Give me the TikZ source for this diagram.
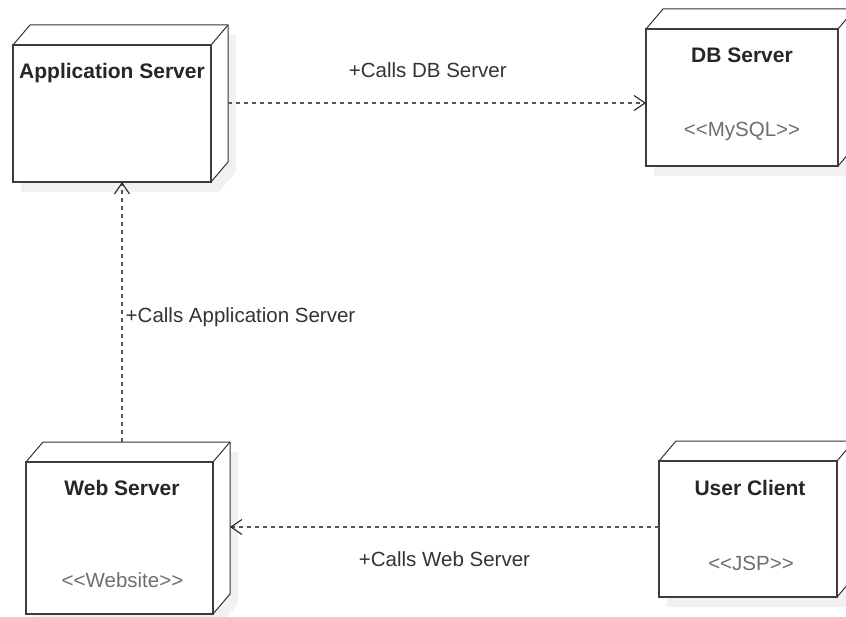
\documentclass[tikz,border=0pt]{standalone}
\usepackage{fontspec}
\setmainfont{Liberation Sans}
\usepackage{tikz}
\usetikzlibrary{calc}
\usetikzlibrary{backgrounds}
\usetikzlibrary{arrows.meta}

\definecolor{boxline}{HTML}{3C3C3C}
\definecolor{calltext}{HTML}{333333}
\definecolor{stereo}{HTML}{6E6E6E}
\definecolor{dashcol}{HTML}{555555}

\tikzset{
	front/.style={draw=boxline,line width=2pt,fill=white,inner sep=0pt,outer sep=0pt},
	face/.style={draw=black!80,line width=1pt,fill=white,line join=round},
	title/.style={font=\fontsize{21}{24}\selectfont\bfseries,text=black!85,anchor=base},
	stereotype/.style={font=\fontsize{20.5}{24}\selectfont,text=stereo,anchor=base},
	lbl/.style={font=\fontsize{20.5}{24}\selectfont,text=calltext},
	call/.style={dashcol,line width=2.8pt,dash pattern=on 4pt off 4pt,
		-{Straight Barb[length=11pt,width=15pt,line width=1.1pt,color=black!85]}}
}

\newcommand{\cubeface}[1]{%
	\begin{scope}[on background layer]
		\fill[gray!11] ($(#1.north west)+(8,10)$)--($(#1.north west)+(25,-10)$)--($(#1.north east)+(25,-10)$)
			--($(#1.south east)+(25,-10)$)--($(#1.south east)+(8,10)$)--($(#1.south west)+(8,10)$)--cycle;
		\draw[face] (#1.north west)--++(17,-20)--($(#1.north east)+(17,-20)$)--($(#1.south east)+(17,-20)$)
			--(#1.south east)--(#1.north east)--cycle;
		\draw[face] (#1.north east)--++(17,-20);
	\end{scope}
}

\begin{document}
\begin{tikzpicture}[x=1pt,y=-1pt]
	\useasboundingbox (0,0) rectangle (846,617);
	\node[front,minimum width=198pt,minimum height=137pt] (app) at (112,113.5) {};
	\node[front,minimum width=192pt,minimum height=137pt] (db) at (742,97.5) {};
	\node[front,minimum width=187pt,minimum height=152pt] (web) at (119.5,538) {};
	\node[front,minimum width=178pt,minimum height=136pt] (user) at (748,529) {};
	\foreach \n in {app,db,web,user}
		{\cubeface{\n}};
	\node[title] (apptitle) at ([yshift=-33.5pt]app.north) {Application Server};
	\node[title] (dbtitle) at ([yshift=-34pt]db.north) {DB Server};
	\node[title] (webtitle) at ([xshift=2.5pt,yshift=-33pt]web.north) {Web Server};
	\node[title] (usertitle) at ([xshift=2pt,yshift=-34pt]user.north) {User Client};
	\node[stereotype] (dbtype) at ([yshift=29pt]db.south) {<{}<MySQL>{}>};
	\node[stereotype] (webtype) at ([xshift=3pt,yshift=27pt]web.south) {<{}<Website>{}>};
	\node[stereotype] (usertype) at ([xshift=3pt,yshift=27pt]user.south) {<{}<JSP>{}>};
	\coordinate (a1) at ([xshift=17pt,yshift=10.5pt]app.east);
	\coordinate (w1) at ([xshift=2.5pt,yshift=20pt]web.north);
	\coordinate (w2) at ([xshift=17pt]web.east);
	\coordinate (u1) at ([yshift=2pt]user.west);
	\draw[call] (a1) -- (a1 -| db.west) node[lbl,pos=.478,anchor=base,yshift=25pt] (l1) {+Calls DB Server};
	\draw[call] (w1) -- (w1 |- app.south) node[lbl,pos=.46,anchor=base west,xshift=-1pt] (l2) {+Calls Application Server};
	\draw[call] (u1) -- (u1 -| w2) node[lbl,pos=.5,anchor=base,yshift=-39pt] (l3) {+Calls Web Server};
\end{tikzpicture}
\end{document}
